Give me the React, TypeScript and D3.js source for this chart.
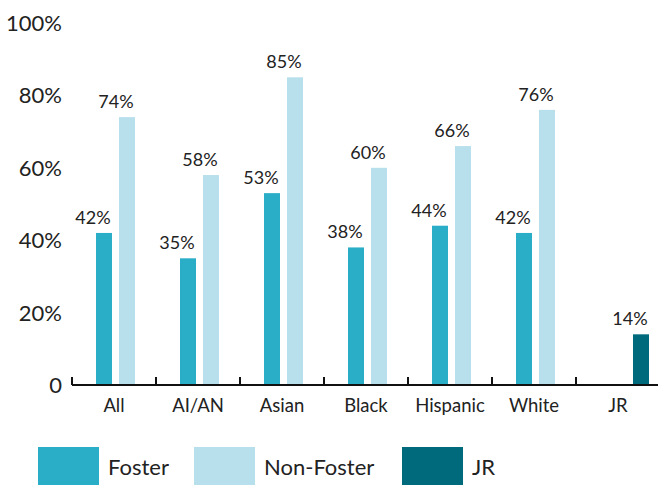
import React from 'react';
import * as d3 from 'd3';

// data
const categories = ['All', 'AI/AN', 'Asian', 'Black', 'Hispanic', 'White', 'JR'];
const fosterValues = [42, 35, 53, 38, 44, 42, null];
const nonFosterValues = [74, 58, 85, 60, 66, 76, null];
const jrValues = [null, null, null, null, null, null, 14];
const yTicks = [0, 20, 40, 60, 80, 100];
const seriesNames = ['Foster', 'Non-Foster', 'JR'];

const colors = { Foster: '#2aadc6', 'Non-Foster': '#b8dfec', JR: '#006a7d' };

const width = 658;
const height = 485;
const font = 'Lato, "Open Sans", sans-serif';

export default function App() {
  const left = 72;
  const baseline = 385;

  const x = d3.scaleBand().domain(categories).range([left, left + 84 * categories.length]);
  const y = d3.scaleLinear().domain([0, 100]).range([baseline, 23]);

  // bar offsets inside each category band
  const offsets = { Foster: 24, 'Non-Foster': 47, JR: 57 };
  const barW = 16;

  const series = [
    { name: 'Foster', values: fosterValues },
    { name: 'Non-Foster', values: nonFosterValues },
    { name: 'JR', values: jrValues },
  ];

  const bars = [];
  series.forEach((s) => {
    s.values.forEach((v, i) => {
      if (v == null) return;
      bars.push({ key: s.name + i, cat: categories[i], name: s.name, value: v });
    });
  });

  const legendX = [38, 194, 402];

  return (
    <svg width={width} height={height} style={{ position: 'absolute', left: 0, top: 0, background: '#fff' }}>
      {/* y labels */}
      {yTicks.map((t) => (
        <text key={t} x={62} y={y(t) + 8} textAnchor="end" fontFamily={font} fontSize={22} fill="#222">
          {t === 0 ? '0' : t + '%'}
        </text>
      ))}

      {/* bars */}
      {bars.map((b) => {
        const bx = x(b.cat) + offsets[b.name];
        return (
          <g key={b.key}>
            <rect x={bx} y={y(b.value)} width={barW} height={baseline - y(b.value)} fill={colors[b.name]} />
            <text x={bx + barW / 2 - 11} y={y(b.value) - 9} textAnchor="middle" fontFamily={font} fontSize={18} fill="#222">
              {b.value + '%'}
            </text>
          </g>
        );
      })}

      {/* x axis */}
      <line x1={left} x2={width} y1={baseline} y2={baseline} stroke="#111" strokeWidth={2} />
      {categories.map((c) => (
        <line key={'t' + c} x1={x(c)} x2={x(c)} y1={baseline} y2={baseline - 8} stroke="#111" strokeWidth={2} />
      ))}
      <line x1={x(categories[6]) + 84} x2={x(categories[6]) + 84} y1={baseline} y2={baseline - 8} stroke="#111" strokeWidth={2} />
      {categories.map((c) => (
        <text key={'l' + c} x={x(c) + x.bandwidth() / 2} y={412} textAnchor="middle" fontFamily={font} fontSize={18.5} fill="#222">
          {c}
        </text>
      ))}

      {/* legend */}
      {seriesNames.map((n, i) => (
        <g key={n}>
          <rect x={legendX[i]} y={447} width={61} height={40} fill={colors[n]} />
          <text x={legendX[i] + 70} y={475} fontFamily={font} fontSize={22} fill="#222">
            {n}
          </text>
        </g>
      ))}
    </svg>
  );
}
